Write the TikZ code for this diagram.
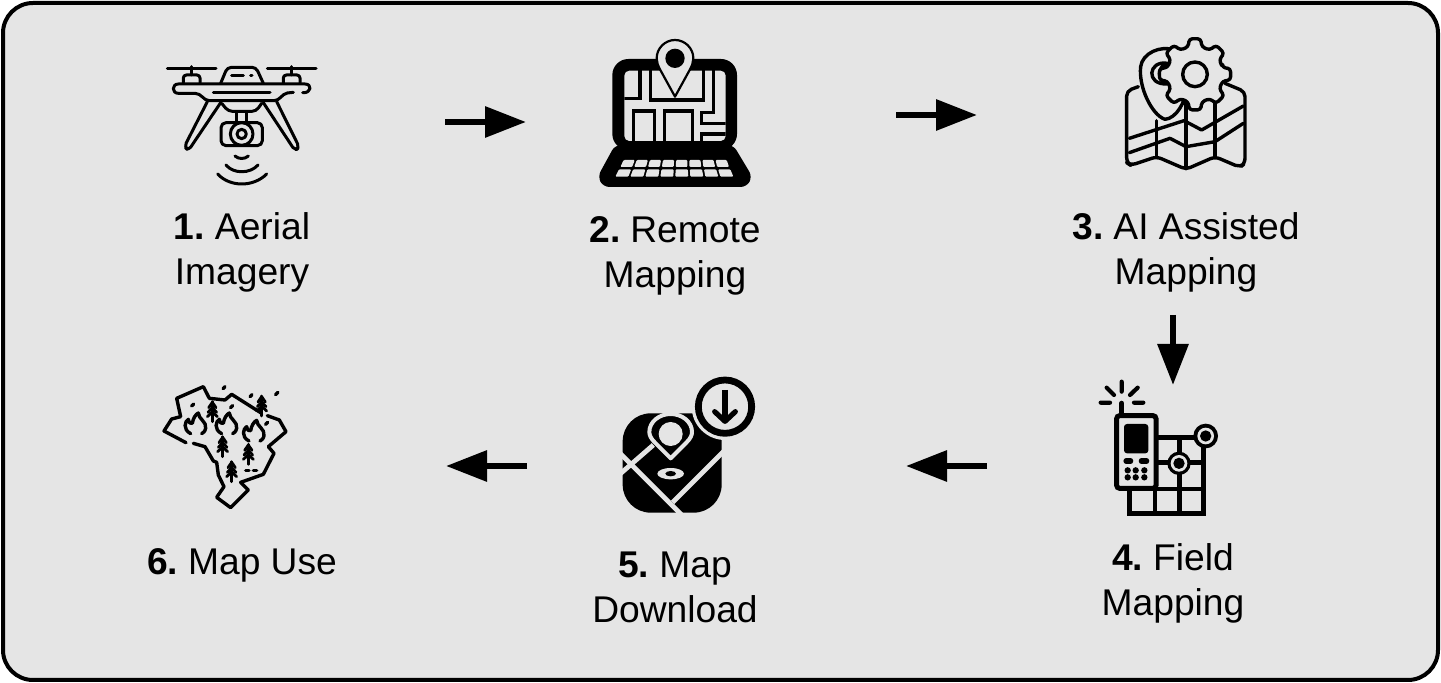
\documentclass[tikz,border=0pt]{standalone}
\usepackage{fontspec}
\setmainfont{Liberation Sans}
\usetikzlibrary{arrows.meta}
\definecolor{bgc}{HTML}{E5E5E5}
\newcommand{\numgap}{\hspace{5pt}}
\tikzset{
  px/.style={x=0.5pt,y=-0.5pt},
  zm/.style 2 args={shift={(#1,#2)},x=0.16667pt,y=-0.16667pt},
  ln/.style={draw=black,line width=1.7pt,line cap=round,line join=round},
  fine/.style={draw=black,line width=1.4pt,line cap=round,line join=round},
  thk/.style={draw=black,line width=1.6pt,line cap=butt,line join=miter},
  grd/.style={draw=black,line width=2.3pt,line cap=butt,line join=miter},
  flowarrow/.style={draw=black,line width=3.1pt,-{Triangle[length=20.5pt,width=15pt]}},
  lab/.style={font=\fontsize{18.6}{22.6}\selectfont,align=center,inner sep=0pt,text=black},
  panel/.style={draw=black,line width=2pt,fill=bgc,rounded corners=15pt}
}
\newcommand{\treeicon}[2]{%
  \draw[fine] (#1,#2-30) -- (#1,#2+30);
  \draw[fine] (#1-11,#2-12) -- (#1,#2-28) -- (#1+11,#2-12);
  \draw[fine] (#1-13,#2+2) -- (#1,#2-12) -- (#1+13,#2+2);
  \draw[fine] (#1-15,#2+15) -- (#1,#2+1) -- (#1+15,#2+15);
}
\newcommand{\flameicon}[2]{%
  \draw[ln] (#1-15,#2+28) .. controls (#1-40,#2+15) and (#1-32,#2-10) .. (#1-22,#2-15)
     .. controls (#1-20,#2-5) and (#1-16,#2) .. (#1-10,#2-3)
     .. controls (#1-8,#2-18) and (#1,#2-30) .. (#1+8,#2-34)
     .. controls (#1+8,#2-16) and (#1+34,#2-8) .. (#1+30,#2+12)
     .. controls (#1+28,#2+22) and (#1+22,#2+26) .. (#1+18,#2+28);
}
\begin{document}
\begin{tikzpicture}[px]
\useasboundingbox (0,0) rectangle (1441,683);
\fill[white] (0,0) rectangle (1441,683);
\node[panel,minimum width=717.5pt,minimum height=338.5pt,anchor=center,inner sep=0pt] (frame) at (720.5,341.5) {};

% labels
\node[lab] (l1) at (242,252) {\textbf{1.}\numgap Aerial\\Imagery};
\node[lab] (l2) at (675,256) {\textbf{2.}\numgap Remote\\Mapping};
\node[lab] (l3) at (1186,252) {\textbf{3.}\numgap AI Assisted\\Mapping};
\node[lab] (l4) at (1173,583.5) {\textbf{4.}\numgap Field\\Mapping};
\node[lab] (l5) at (675,587) {\textbf{5.}\numgap Map\\Download};
\node[lab] (l6) at (242,565) {\textbf{6.}\numgap Map Use};

% arrows
\coordinate (a1s) at (445,122); \coordinate (a1e) at (526,122);
\coordinate (a2s) at (896,115); \coordinate (a2e) at (977,115);
\coordinate (a3s) at (1173,315); \coordinate (a3e) at (1173,385);
\coordinate (a4s) at (987,466); \coordinate (a4e) at (906,466);
\coordinate (a5s) at (527,466); \coordinate (a5e) at (446,466);
\draw[flowarrow] (a1s) -- (a1e);
\draw[flowarrow] (a2s) -- (a2e);
\draw[flowarrow] (a3s) -- (a3e);
\draw[flowarrow] (a4s) -- (a4e);
\draw[flowarrow] (a5s) -- (a5e);

% 1 drone
\begin{scope}[zm={150}{50},ln/.style={draw=black,line width=1.5pt,line cap=round,line join=round}]
  \draw[ln] (52,57) -- (198,57) (352,57) -- (498,57);
  \draw[ln] (125,50) -- (125,75) (425,50) -- (425,75);
  \draw[ln,rounded corners=1.5pt] (100,98) -- (100,75) -- (150,75) -- (150,98);
  \draw[ln,rounded corners=1.5pt] (400,98) -- (400,75) -- (450,75) -- (450,98);
  \draw[ln,rounded corners=2pt] (212,100) -- (232,52) -- (318,52) -- (340,100);
  \draw[ln] (245,77) -- (280,77) (302,77) -- (306,77);
  \draw[ln] (430,127) -- (412,129) .. controls (395,132) and (390,152) .. (372,152) -- (178,152)
     .. controls (160,152) and (155,130) .. (135,130) -- (85,130)
     .. controls (65,130) and (65,102) .. (85,102) -- (465,102)
     .. controls (487,102) and (485,130) .. (458,128);
  \draw[ln] (190,127) -- (360,127);
  \draw[ln,rounded corners=2pt] (172,155) -- (103,290) -- (115,302) -- (212,158);
  \draw[ln,rounded corners=2pt] (340,158) -- (435,302) -- (448,292) -- (380,155);
  \draw[ln,rounded corners=2pt] (215,160) -- (235,184) -- (318,184) -- (335,160);
  \draw[ln] (260,186) -- (260,218) (290,186) -- (290,218);
  \draw[ln,rounded corners=2.5pt] (213,218) rectangle (337,287);
  \draw[ln,fill=bgc] (275,252) circle (34);
  \draw[ln] (275,252) circle (14);
  \draw[ln] (255,318) .. controls (265,328) and (285,328) .. (295,318);
  \draw[ln] (228,345) .. controls (250,372) and (300,372) .. (324,345);
  \draw[ln] (203,372) .. controls (240,412) and (310,412) .. (350,372);
\end{scope}

% 2 laptop
\begin{scope}[zm={585}{35}]
  \fill[rounded corners=8pt] (82,72) rectangle (456,345);
  \fill[rounded corners=3pt] (90,330) -- (38,425) -- (55,456) -- (485,456) -- (502,425) -- (445,330) -- cycle;
  \fill[bgc,rounded corners=2.5pt] (118,107) rectangle (422,318);
  \begin{scope}
    \clip (118,107) rectangle (422,318);
    \draw[thk] (165,100) -- (165,190) -- (110,190);
    \draw[thk] (197,100) -- (197,195) -- (355,195) -- (355,100);
    \draw[thk] (385,100) -- (385,232) -- (350,232) -- (350,265) -- (430,265);
    \draw[thk] (430,297) -- (350,297) -- (350,325);
    \draw[thk] (145,325) -- (145,228) -- (208,228) -- (208,325);
    \draw[thk] (238,325) -- (238,228) -- (322,228) -- (322,325);
  \end{scope}
  \draw[draw=black,line width=1.1pt,fill=bgc,line join=round]
     (270,185) -- (226,105) .. controls (219,92) and (215,82) .. (215,70)
     .. controls (215,40) and (240,15) .. (270,15)
     .. controls (300,15) and (325,40) .. (325,70)
     .. controls (325,82) and (321,92) .. (314,105) -- cycle;
  \fill (270,70) circle (29);
  \foreach \i in {0,...,7}{
    \pgfmathsetmacro{\aa}{115+\i*39.375+1}
    \pgfmathsetmacro{\ab}{115+(\i+1)*39.375-5}
    \pgfmathsetmacro{\ba}{105+\i*41.5+1}
    \pgfmathsetmacro{\bb}{105+(\i+1)*41.5-5}
    \pgfmathsetmacro{\ca}{101+\i*42.5+1}
    \pgfmathsetmacro{\cb}{101+(\i+1)*42.5-5}
    \pgfmathsetmacro{\da}{90+\i*45+1}
    \pgfmathsetmacro{\db}{90+(\i+1)*45-5}
    \fill[bgc,rounded corners=0.5pt] (\aa,375) -- (\ab,375) -- (\bb,396) -- (\ba,396) -- cycle;
    \fill[bgc,rounded corners=0.5pt] (\ca,403) -- (\cb,403) -- (\db,425) -- (\da,425) -- cycle;
  }
\end{scope}

% 3 map with pin and gear
\begin{scope}[zm={1110}{30}]
  \draw[ln,rounded corners=2.5pt] (85,170) -- (50,183) -- (50,398) -- (62,406) -- (140,380) -- (228,418) -- (315,380) -- (390,412) -- (405,400) -- (405,185) -- (345,160);
  \draw[ln] (140,272) -- (140,380);
  \draw[ln] (228,215) -- (228,416);
  \draw[ln] (315,205) -- (315,380);
  \draw[ln] (58,325) -- (222,272) -- (275,300) -- (400,228);
  \draw[ln] (58,368) -- (180,325) -- (228,350) -- (315,335) -- (400,280);
  \draw[ln,fill=bgc] (165,268) .. controls (125,255) and (85,170) .. (92,110)
     .. controls (97,70) and (150,45) .. (195,60) -- (230,180)
     .. controls (225,215) and (200,265) .. (165,268) -- cycle;
  \draw[ln] (172,100) .. controls (115,90) and (105,165) .. (172,162) .. controls (140,150) and (140,112) .. (172,100) -- cycle;
  \begin{scope}[shift={(255,133)}]
    \draw[ln,fill=bgc,rounded corners=1.5pt] (-14:85)
      \foreach \a in {0,45,...,315}{ -- (\a-14:85) -- (\a-9:108) -- (\a+9:108) -- (\a+14:85) } -- cycle;
    \draw[ln] (0,0) circle (37);
  \end{scope}
\end{scope}

% 4 field device
\begin{scope}[zm={1090}{375}]
  \draw[grd] (198,187) -- (345,187);
  \draw[grd] (340,195) -- (340,415) -- (118,415) -- (118,340);
  \draw[grd] (195,340) -- (195,415);
  \draw[grd] (268,195) -- (268,415);
  \draw[grd] (198,262) -- (340,262);
  \draw[grd] (118,342) -- (340,342);
  \fill (347,183) circle (37);
  \fill[bgc] (347,183) circle (25);
  \fill (347,183) circle (17);
  \fill (267,265) circle (35);
  \fill[bgc] (267,265) circle (25);
  \fill (267,265) circle (17);
  \draw[draw=black,line width=2.5pt,fill=bgc,rounded corners=1.5pt] (80,122) rectangle (198,340);
  \fill[rounded corners=1.5pt] (102,147) rectangle (175,235);
  \draw[draw=black,line width=2.6pt,line cap=round]
     (108,258) -- (122,258) (154,258) -- (170,258)
     (95,85) -- (95,118);
  \foreach \x in {113,137,163}{\fill (\x,286) circle (9.5); \fill (\x,307) circle (9.5);}
  \draw[draw=black,line width=2.1pt,line cap=round]
     (95,20) -- (95,50) (50,38) -- (72,60) (143,38) -- (120,60) (32,83) -- (60,83) (132,83) -- (160,83);
\end{scope}

% 5 map download
\begin{scope}[zm={610}{370}]
  \fill[rounded corners=14pt] (38,130) rectangle (335,428);
  \draw[bgc,line width=2.4pt] (30,250) -- (215,435);
  \draw[bgc,line width=2.4pt] (345,240) -- (188,397);
  \draw[bgc,line width=2.4pt] (130,225) -- (30,312);
  \fill[bgc] (345,110) circle (100);
  \draw[black,line width=3.4pt] (345,110) circle (80);
  \draw[black,line width=2.6pt] (345,60) -- (345,150);
  \draw[black,line width=2.6pt,line join=round,line cap=round] (314,125) -- (345,154) -- (376,125);
  \draw[bgc,line width=2pt,fill=black,line join=round]
     (182,265) -- (135,218) .. controls (122,205) and (118,195) .. (118,186)
     .. controls (118,155) and (148,132) .. (182,132)
     .. controls (216,132) and (246,155) .. (246,186)
     .. controls (246,195) and (242,205) .. (229,218) -- cycle;
  \fill[bgc] (182,192) circle (36);
  \fill[bgc] (182,311) ellipse (40 and 17);
  \fill (182,311) ellipse (16 and 8);
\end{scope}

% 6 map use
\begin{scope}[zm={150}{375}]
  \draw[ln] (108,203) -- (42,168) -- (65,132) -- (92,125) -- (80,70) -- (160,35) -- (178,70) -- (225,75) -- (245,58) -- (335,115);
  \draw[ln] (352,122) -- (388,135) -- (408,170) -- (355,215) -- (372,235) -- (340,298) -- (272,322) -- (295,345) -- (242,398) -- (200,367) -- (222,335) -- (205,300) -- (200,262) -- (190,258) -- (165,215) -- (130,205);
  \draw[ln] (219,41) -- (225,35) (300,65) -- (306,59) (377,59) -- (384,52) (125,93) -- (131,87) (242,98) -- (248,92) (347,148) -- (353,142);
  \draw[ln] (287,287) -- (297,287) (310,287) -- (320,287);
  \treeicon{187}{110}
  \treeicon{335}{93}
  \treeicon{218}{215}
  \treeicon{295}{238}
  \treeicon{245}{290}
  \flameicon{137}{148}
  \flameicon{230}{148}
  \flameicon{312}{170}
\end{scope}
\end{tikzpicture}
\end{document}
